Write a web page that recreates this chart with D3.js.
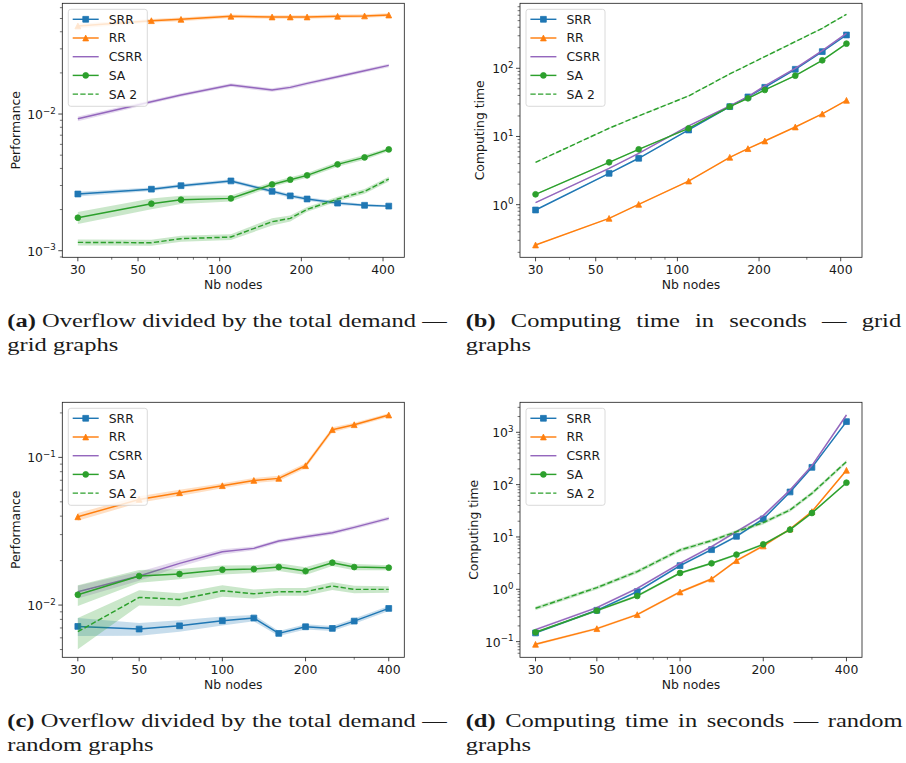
<!DOCTYPE html>
<html>
<head>
<meta charset="utf-8">
<script src="https://cdn.jsdelivr.net/npm/d3@7"></script>
<style>
  body { margin: 0; background: #fff; }
  svg { display: block; }
  .tick-label, .axis-label, .legend-label { font-family: "DejaVu Sans", sans-serif; fill: #1a1a1a; }
  .caption text { font-family: "Liberation Serif", "DejaVu Serif", serif; fill: #1a1a1a; }
</style>
</head>
<body>
<svg id="chart" width="906" height="763"></svg>
<script>
// x values (number of nodes)
const gridNodes = [30, 56, 72, 110, 156, 182, 210, 272, 342, 420];
const randomNodes = [30, 50, 70, 100, 130, 160, 200, 250, 300, 400];
const xTickValues = [30, 50, 100, 200, 400];
const seriesNames = ["SRR", "RR", "CSRR", "SA", "SA 2"];

// (a) performance, grid graphs
const perfGridSRR = [0.00260, 0.00282, 0.00299, 0.00324, 0.00272, 0.00252, 0.00239, 0.00223, 0.00215, 0.00212];
const perfGridRR = [0.0441, 0.0482, 0.0493, 0.0519, 0.0513, 0.0513, 0.0513, 0.0519, 0.0522, 0.0530];
const perfGridCSRR = [0.00924, 0.01231, 0.01377, 0.0163, 0.01499, 0.01567, 0.01676, 0.01875, 0.02075, 0.0227];
const perfGridSA = [0.001743, 0.002208, 0.002361, 0.002415, 0.003054, 0.003309, 0.003559, 0.004283, 0.004818, 0.005513];
const perfGridSA2 = [0.001151, 0.001144, 0.001225, 0.001259, 0.00163, 0.001724, 0.002006, 0.002388, 0.002718, 0.003342];

// (b) computing time, grid graphs
const timeGridSRR = [0.835, 2.88, 4.79, 12.45, 27.4, 38.0, 52.6, 96.7, 175.6, 308];
const timeGridRR = [0.256, 0.63, 1.01, 2.22, 4.95, 6.63, 8.59, 13.78, 21.4, 33.9];
const timeGridCSRR = [1.07, 3.41, 5.66, 14.26, 28.0, 38.4, 55.1, 100, 181.7, 326];
const timeGridSA = [1.418, 4.18, 6.48, 13.18, 27.4, 36.3, 48.1, 77.9, 131, 230];
const timeGridSA2 = [4.18, 13.2, 20.0, 39.3, 82.6, 111.9, 148.3, 246, 386, 620];

// (c) performance, random graphs
const perfRandSRR = [0.00717, 0.00688, 0.00724, 0.00783, 0.00817, 0.00643, 0.00713, 0.00695, 0.00779, 0.00949];
const perfRandRR = [0.0396, 0.0519, 0.0576, 0.0643, 0.0698, 0.0721, 0.0878, 0.154, 0.1664, 0.1935];
const perfRandCSRR = [0.01231, 0.01572, 0.01915, 0.02296, 0.0242, 0.02713, 0.02903, 0.0309, 0.03357, 0.03864];
const perfRandSA = [0.01175, 0.01572, 0.01623, 0.01735, 0.01753, 0.01809, 0.017, 0.01936, 0.01809, 0.01791];
const perfRandSA2 = [0.0066, 0.01127, 0.01092, 0.0125, 0.01193, 0.01231, 0.01231, 0.01346, 0.01277, 0.01277];

// (d) computing time, random graphs
const timeRandSRR = [0.1466, 0.397, 0.902, 2.833, 5.72, 10.3, 22.07, 72.4, 214, 1600];
const timeRandRR = [0.0889, 0.177, 0.328, 0.889, 1.576, 3.53, 6.73, 14.2, 30.5, 188];
const timeRandCSRR = [0.1696, 0.4467, 1.045, 3.14, 6.53, 12.64, 25.6, 79.0, 230.7, 2143];
const timeRandSA = [0.1508, 0.391, 0.746, 2.05, 3.14, 4.6, 7.24, 13.8, 28.7, 109];
const timeRandSA2 = [0.4335, 1.076, 2.18, 5.64, 8.51, 12.64, 18.8, 32.8, 68.2, 275];

// relative half-width of the shaded bands
const bandGridSRR = [0.04, 0.03, 0.03, 0.03, 0.03, 0.03, 0.03, 0.03, 0.02, 0.02];
const bandGridRR = [0.04, 0.03, 0.03, 0.03, 0.03, 0.03, 0.03, 0.03, 0.03, 0.03];
const bandGridCSRR = [0.04, 0.03, 0.03, 0.03, 0.03, 0.03, 0.03, 0.03, 0.03, 0.03];
const bandGridSA = [0.10, 0.09, 0.07, 0.05, 0.04, 0.04, 0.04, 0.04, 0.04, 0.03];
const bandGridSA2 = [0.05, 0.05, 0.05, 0.05, 0.06, 0.05, 0.04, 0.04, 0.04, 0.04];
const bandTimeGrid = [0.02, 0.02, 0.02, 0.02, 0.02, 0.02, 0.02, 0.02, 0.02, 0.02];
const bandRandSRR = [0.14, 0.10, 0.09, 0.07, 0.05, 0.04, 0.04, 0.04, 0.04, 0.04];
const bandRandRR = [0.06, 0.05, 0.05, 0.04, 0.04, 0.04, 0.04, 0.04, 0.03, 0.03];
const bandRandCSRR = [0.10, 0.07, 0.05, 0.04, 0.03, 0.03, 0.03, 0.03, 0.03, 0.03];
const bandRandSA = [0.16, 0.10, 0.08, 0.07, 0.06, 0.06, 0.06, 0.05, 0.05, 0.04];
const bandRandSA2 = [0.24, 0.12, 0.10, 0.09, 0.07, 0.06, 0.06, 0.06, 0.06, 0.05];
const bandTimeRand = [0.05, 0.05, 0.05, 0.05, 0.05, 0.05, 0.05, 0.05, 0.05, 0.05];
const bandTimeRandSA2 = [0.08, 0.08, 0.08, 0.08, 0.08, 0.08, 0.08, 0.08, 0.08, 0.08];

const styles = {
  "SRR": { color: "#1f77b4", marker: "square", dash: null },
  "RR": { color: "#ff7f0e", marker: "triangle", dash: null },
  "CSRR": { color: "#9467bd", marker: null, dash: null },
  "SA": { color: "#2ca02c", marker: "circle", dash: null },
  "SA 2": { color: "#2ca02c", marker: null, dash: "5.3,2.3" },
};

const panels = [
  {
    left: 62.3, right: 404.3, top: 3.3, bottom: 257.3,
    x: gridNodes, xDomain: [26.29, 479.2], yDomain: [8.95e-4, 6.46e-2],
    ylabel: "Performance", ylabelX: 15.7,
    values: [perfGridSRR, perfGridRR, perfGridCSRR, perfGridSA, perfGridSA2],
    bands: [bandGridSRR, bandGridRR, bandGridCSRR, bandGridSA, bandGridSA2],
    caption: { x: 7.3, width: 439.4, y: 327, tag: "(a)", line1: "Overflow divided by the total demand —", line2: "grid graphs" },
  },
  {
    left: 520, right: 862, top: 3.3, bottom: 257.3,
    x: gridNodes, xDomain: [26.29, 479.2], yDomain: [0.169, 898],
    ylabel: "Computing time", ylabelX: 479.7,
    values: [timeGridSRR, timeGridRR, timeGridCSRR, timeGridSA, timeGridSA2],
    bands: [bandTimeGrid, bandTimeGrid, bandTimeGrid, bandTimeGrid, bandTimeGrid],
    caption: { x: 465.7, width: 435.5, y: 327, tag: "(b)", line1: "Computing time in seconds — grid", line2: "graphs" },
  },
  {
    left: 62.3, right: 404.3, top: 402.3, bottom: 657.3,
    x: randomNodes, xDomain: [26.36, 455.3], yDomain: [0.00443, 0.236],
    ylabel: "Performance", ylabelX: 15.7,
    values: [perfRandSRR, perfRandRR, perfRandCSRR, perfRandSA, perfRandSA2],
    bands: [bandRandSRR, bandRandRR, bandRandCSRR, bandRandSA, bandRandSA2],
    caption: { x: 7.3, width: 439.4, y: 727, tag: "(c)", line1: "Overflow divided by the total demand —", line2: "random graphs" },
  },
  {
    left: 520, right: 862, top: 402.3, bottom: 657.3,
    x: randomNodes, xDomain: [26.36, 455.3], yDomain: [0.0502, 3743],
    ylabel: "Computing time", ylabelX: 473,
    values: [timeRandSRR, timeRandRR, timeRandCSRR, timeRandSA, timeRandSA2],
    bands: [bandTimeRand, bandTimeRand, bandTimeRand, bandTimeRand, bandTimeRandSA2],
    caption: { x: 465.7, width: 437, y: 727, tag: "(d)", line1: "Computing time in seconds — random", line2: "graphs" },
  },
];

const svg = d3.select("#chart");
const FONT = 12.4;
const CAPTION_FONT = 19;

function logTicks(domain) {
  const major = [], minor = [];
  const e0 = Math.floor(Math.log10(domain[0])), e1 = Math.ceil(Math.log10(domain[1]));
  for (let e = e0; e <= e1; e++) {
    for (let k = 1; k <= 9; k++) {
      const v = k * Math.pow(10, e);
      if (v < domain[0] * 0.999 || v > domain[1] * 1.001) continue;
      (k === 1 ? major : minor).push(v);
    }
  }
  return { major, minor };
}

function markerPath(type, s) {
  const h = s / 2;
  if (type === "square") return `M${-h},${-h}H${h}V${h}H${-h}Z`;
  if (type === "triangle") return `M0,${-h}L${h},${h}L${-h},${h}Z`;
  return `M${h},0A${h},${h} 0 1,1 ${-h},0A${h},${h} 0 1,1 ${h},0Z`;
}

// the serif font is narrower than the original one: stretch it so that line (a) fits naturally
function captionStretch() {
  const c = panels[0].caption;
  const g = svg.append("g").attr("class", "caption").style("font-size", CAPTION_FONT + "px");
  const t = g.append("text");
  t.append("tspan").attr("font-weight", "bold").text(c.tag + " ");
  t.append("tspan").text(c.line1);
  const w = t.node().getComputedTextLength();
  g.remove();
  return c.width / w;
}
const STRETCH = captionStretch();

class PanelView {
  constructor(root, p) {
    this.p = p;
    this.g = root.append("g");
    this.x = d3.scaleLog().domain(p.xDomain).range([p.left, p.right]);
    this.y = d3.scaleLog().domain(p.yDomain).range([p.bottom, p.top]);
  }

  drawSeries() {
    const p = this.p;
    const clip = "clip-" + Math.random().toString(36).substr(2, 9);
    this.g.append("clipPath").attr("id", clip)
      .append("rect").attr("x", p.left).attr("y", p.top)
      .attr("width", p.right - p.left).attr("height", p.bottom - p.top);
    const plot = this.g.append("g").attr("clip-path", `url(#${clip})`);

    seriesNames.forEach((name, i) => {
      const st = styles[name];
      const pts = p.x.map((xv, j) => ({ x: xv, v: p.values[i][j], b: p.bands[i][j] }));

      const area = d3.area()
        .x((d) => this.x(d.x))
        .y0((d) => this.y(d.v * (1 - d.b)))
        .y1((d) => this.y(d.v * (1 + d.b)));
      plot.append("path").attr("d", area(pts))
        .attr("fill", st.color).attr("fill-opacity", 0.25).attr("stroke", "none");

      const line = d3.line().x((d) => this.x(d.x)).y((d) => this.y(d.v));
      plot.append("path").attr("d", line(pts))
        .attr("fill", "none").attr("stroke", st.color).attr("stroke-width", 1.45)
        .attr("stroke-linejoin", "round")
        .attr("stroke-dasharray", st.dash);

      if (st.marker) {
        plot.selectAll(null).data(pts).enter().append("path")
          .attr("d", markerPath(st.marker, 5.8))
          .attr("transform", (d) => `translate(${this.x(d.x)},${this.y(d.v)})`)
          .attr("fill", st.color).attr("stroke", st.color).attr("stroke-width", 0.8);
      }
    });
  }

  drawAxes() {
    const p = this.p;
    const g = this.g;
    const xt = logTicks(p.xDomain);
    const yt = logTicks(p.yDomain);

    // minor ticks
    g.selectAll(null).data(xt.minor.filter((v) => !xTickValues.includes(Math.round(v)))).enter()
      .append("line")
      .attr("x1", (d) => this.x(d)).attr("x2", (d) => this.x(d))
      .attr("y1", p.bottom).attr("y2", p.bottom + 2.4)
      .attr("stroke", "#1a1a1a").attr("stroke-width", 0.6);
    g.selectAll(null).data(yt.minor).enter().append("line")
      .attr("y1", (d) => this.y(d)).attr("y2", (d) => this.y(d))
      .attr("x1", p.left).attr("x2", p.left - 2.4)
      .attr("stroke", "#1a1a1a").attr("stroke-width", 0.6);

    // major x ticks
    g.selectAll(null).data(xTickValues).enter().append("line")
      .attr("x1", (d) => this.x(d)).attr("x2", (d) => this.x(d))
      .attr("y1", p.bottom).attr("y2", p.bottom + 4)
      .attr("stroke", "#1a1a1a").attr("stroke-width", 0.8);
    g.selectAll(null).data(xTickValues).enter().append("text")
      .attr("class", "tick-label")
      .attr("x", (d) => this.x(d)).attr("y", p.bottom + 16.7)
      .attr("text-anchor", "middle").style("font-size", FONT + "px")
      .text((d) => d);

    // major y ticks
    g.selectAll(null).data(yt.major).enter().append("line")
      .attr("y1", (d) => this.y(d)).attr("y2", (d) => this.y(d))
      .attr("x1", p.left).attr("x2", p.left - 4)
      .attr("stroke", "#1a1a1a").attr("stroke-width", 0.8);
    const lab = g.selectAll(null).data(yt.major).enter().append("text")
      .attr("class", "tick-label")
      .attr("x", p.left - 6.5).attr("y", (d) => this.y(d) + 5)
      .attr("text-anchor", "end").style("font-size", FONT + "px");
    lab.append("tspan").text("10");
    lab.append("tspan").attr("dy", -5.5).style("font-size", "8.7px")
      .text((d) => String(Math.round(Math.log10(d))).replace("-", "\u2212"));

    // frame
    g.append("rect")
      .attr("x", p.left).attr("y", p.top)
      .attr("width", p.right - p.left).attr("height", p.bottom - p.top)
      .attr("fill", "none").attr("stroke", "#1a1a1a").attr("stroke-width", 0.8);

    g.append("text").attr("class", "axis-label")
      .attr("x", (p.left + p.right) / 2).attr("y", p.bottom + 32)
      .attr("text-anchor", "middle").style("font-size", FONT + "px")
      .text("Nb nodes");
    const cy = (p.top + p.bottom) / 2;
    g.append("text").attr("class", "axis-label")
      .attr("transform", `translate(${p.ylabelX},${cy}) rotate(-90)`)
      .attr("text-anchor", "middle").attr("dominant-baseline", "central")
      .style("font-size", FONT + "px")
      .text(p.ylabel);
  }

  drawLegend() {
    const p = this.p;
    const lg = this.g.append("g").attr("transform", `translate(${p.left},${p.top})`);
    lg.append("rect")
      .attr("x", 6).attr("y", 6).attr("width", 79).attr("height", 97).attr("rx", 2.5)
      .attr("fill", "#fff").attr("fill-opacity", 0.8)
      .attr("stroke", "#d0d0d0").attr("stroke-width", 0.8);

    seriesNames.forEach((name, i) => {
      const st = styles[name];
      const yy = 16 + i * 18.7;
      lg.append("line")
        .attr("x1", 10.4).attr("x2", 36.4).attr("y1", yy).attr("y2", yy)
        .attr("stroke", st.color).attr("stroke-width", 1.45)
        .attr("stroke-dasharray", st.dash);
      if (st.marker) {
        lg.append("path").attr("d", markerPath(st.marker, 5.8))
          .attr("transform", `translate(23.4,${yy})`)
          .attr("fill", st.color).attr("stroke", st.color).attr("stroke-width", 0.8);
      }
      lg.append("text").attr("class", "legend-label")
        .attr("x", 46.4).attr("y", yy).attr("dominant-baseline", "central")
        .style("font-size", FONT + "px").text(name);
    });
  }

  drawCaption() {
    const c = this.p.caption;
    const g = this.g.append("g").attr("class", "caption").style("font-size", CAPTION_FONT + "px");
    const measure = (text, bold) => {
      const t = g.append("text").attr("font-weight", bold ? "bold" : null).text(text);
      const w = t.node().getComputedTextLength() * STRETCH;
      t.remove();
      return w;
    };
    // first line is justified to the column width
    const words = [{ text: c.tag, bold: true }].concat(
      c.line1.split(" ").map((w) => ({ text: w, bold: false })));
    const widths = words.map((w) => measure(w.text, w.bold));
    const gap = (c.width - d3.sum(widths)) / (words.length - 1);
    let xx = c.x;
    words.forEach((w, i) => {
      g.append("text")
        .attr("transform", `translate(${xx},${c.y}) scale(${STRETCH},1)`)
        .attr("font-weight", w.bold ? "bold" : null).text(w.text);
      xx += widths[i] + gap;
    });
    g.append("text")
      .attr("transform", `translate(${c.x},${c.y + 24}) scale(${STRETCH},1)`)
      .text(c.line2);
  }
}

panels.forEach((p) => {
  const view = new PanelView(svg, p);
  view.drawSeries();
  view.drawAxes();
  view.drawLegend();
  view.drawCaption();
});
</script>
</body>
</html>
